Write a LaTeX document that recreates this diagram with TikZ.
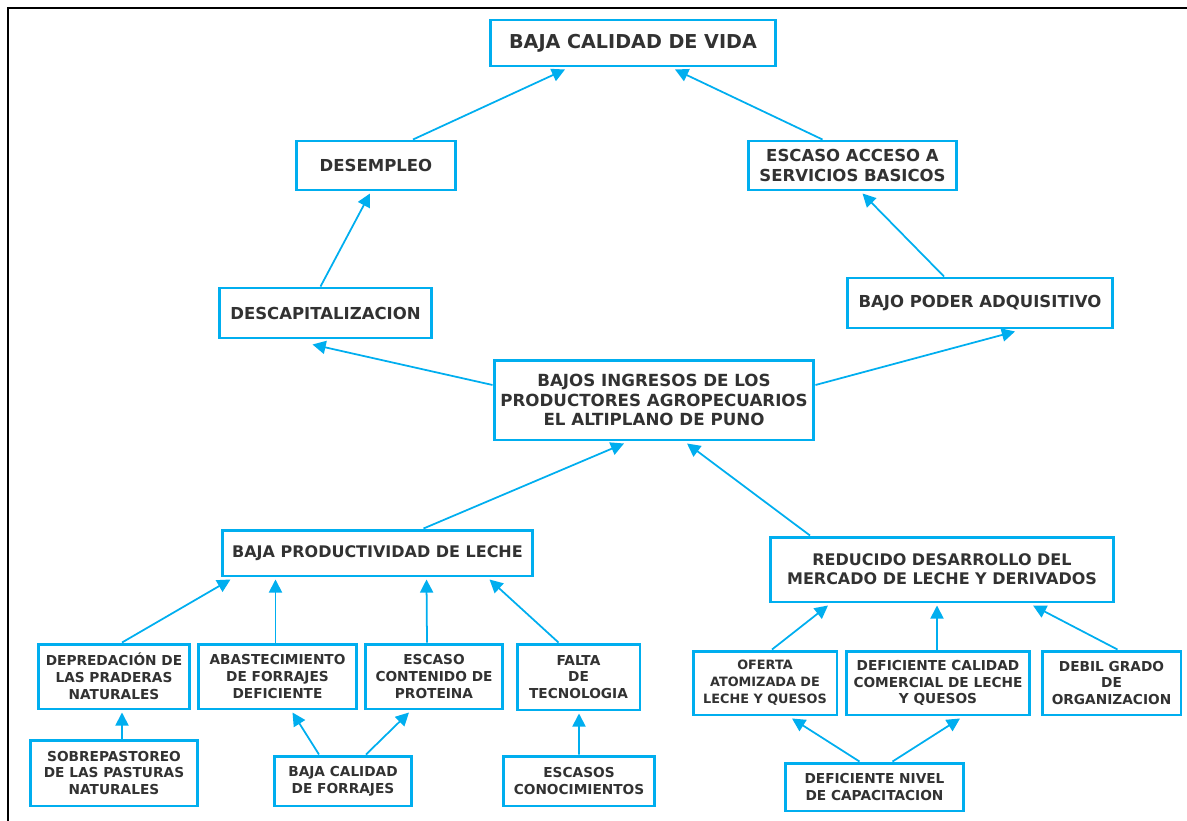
\documentclass[tikz,border=0pt]{standalone}
\usepackage{fontspec}
\setmainfont{DejaVu Sans}
\usetikzlibrary{arrows.meta,calc}

\definecolor{celeste}{RGB}{0,174,239}
\definecolor{grisoscuro}{RGB}{50,50,50}

\tikzset{
  caja/.style={draw=celeste, line width=1.7pt, fill=white, text=grisoscuro, align=center,
    inner sep=1pt, font=\bfseries\fontsize{9.4}{11}\selectfont},
  cajachica/.style={caja, font=\bfseries\fontsize{7.8}{9.6}\selectfont},
  flecha/.style={celeste, line width=1pt, -{Triangle[length=7.5pt,width=7.5pt]}}
}

\begin{document}
\begin{tikzpicture}[x=0.02cm, y=-0.02cm]
  \useasboundingbox (0,0) rectangle (1187,821);

  % Marco
  \draw[black, line width=1.2pt] (8,821) -- (8,8) -- (1187,8);

  % Efectos
  \node[caja, minimum width=5.72cm, minimum height=0.92cm, font=\bfseries\fontsize{10.9}{12}\selectfont] (vida) at (633,43) {BAJA CALIDAD DE VIDA};
  \node[caja, minimum width=3.2cm, minimum height=0.98cm] (desempleo) at (376,165.5) {DESEMPLEO};
  \node[caja, minimum width=4.18cm, minimum height=0.98cm] (acceso) at (852.5,165.5) {ESCASO ACCESO A\\SERVICIOS BASICOS};
  \node[caja, minimum width=4.26cm, minimum height=1cm] (descap) at (325.5,313) {DESCAPITALIZACION};
  \node[caja, minimum width=5.32cm, minimum height=1cm] (poder) at (980,303) {BAJO PODER ADQUISITIVO};

  % Problema central
  \node[caja, minimum width=6.4cm, minimum height=1.6cm, font=\bfseries\fontsize{9.5}{11.3}\selectfont] (ingresos) at (654,400) {BAJOS INGRESOS DE LOS\\PRODUCTORES AGROPECUARIOS\\EL ALTIPLANO DE PUNO};

  % Causas directas
  \node[caja, minimum width=6.22cm, minimum height=0.92cm, font=\bfseries\fontsize{9.1}{11}\selectfont] (productividad) at (377.5,553) {BAJA PRODUCTIVIDAD DE LECHE};
  \node[caja, minimum width=6.88cm, minimum height=1.3cm, font=\bfseries\fontsize{9.1}{11}\selectfont] (mercado) at (942,569.5) {REDUCIDO DESARROLLO DEL\\MERCADO DE LECHE Y DERIVADOS};

  % Causas indirectas
  \node[cajachica, minimum width=3.04cm, minimum height=1.3cm] (depredacion) at (114,676.5) {DEPREDACIÓN DE\\LAS PRADERAS\\NATURALES};
  \node[cajachica, minimum width=3.18cm, minimum height=1.3cm] (abastecimiento) at (277.5,676.5) {ABASTECIMIENTO\\DE FORRAJES\\DEFICIENTE};
  \node[cajachica, minimum width=2.76cm, minimum height=1.3cm] (proteina) at (434,676.5) {ESCASO\\CONTENIDO DE\\PROTEINA};
  \node[cajachica, minimum width=2.46cm, minimum height=1.32cm] (tecnologia) at (578.5,677) {FALTA\\DE\\TECNOLOGIA};
  \node[cajachica, minimum width=2.88cm, minimum height=1.28cm, font=\bfseries\fontsize{7.3}{9.6}\selectfont] (oferta) at (765,683) {OFERTA\\ATOMIZADA DE\\LECHE Y QUESOS};
  \node[cajachica, minimum width=3.68cm, minimum height=1.28cm] (comercial) at (938,683) {DEFICIENTE CALIDAD\\COMERCIAL DE LECHE\\Y QUESOS};
  \node[cajachica, minimum width=2.78cm, minimum height=1.28cm] (organizacion) at (1111.5,683) {DEBIL GRADO\\DE\\ORGANIZACION};

  % Causas de fondo
  \node[cajachica, minimum width=3.36cm, minimum height=1.32cm] (sobrepastoreo) at (114,773) {SOBREPASTOREO\\DE LAS PASTURAS\\NATURALES};
  \node[cajachica, minimum width=2.76cm, minimum height=1cm] (forrajes) at (343,781) {BAJA CALIDAD\\DE FORRAJES};
  \node[cajachica, minimum width=3.04cm, minimum height=1cm] (conocimientos) at (579,781) {ESCASOS\\CONOCIMIENTOS};
  \node[cajachica, minimum width=3.58cm, minimum height=0.96cm] (capacitacion) at (874.5,787) {DEFICIENTE NIVEL\\DE CAPACITACION};

  % Flechas hacia arriba
  \draw[flecha] ($(desempleo.north)+(37,0)$) -- ($(vida.south)+(-68,2)$);
  \draw[flecha] ($(acceso.north)+(-30,0)$) -- ($(vida.south)+(42,2)$);
  \draw[flecha] ($(descap.north)+(-5,0)$) -- ($(desempleo.south)+(-6,2)$);
  \draw[flecha] ($(poder.north)+(-36,0)$) -- ($(acceso.south)+(10,2)$);
  \draw[flecha] ($(ingresos.west)+(0,-15)$) -- ($(descap.south)+(-13,5)$);
  \draw[flecha] ($(ingresos.east)+(0,-15)$) -- ($(poder.south)+(35,2)$);
  \draw[flecha] ($(productividad.north)+(46,0)$) -- ($(ingresos.south)+(-30,2)$);
  \draw[flecha] ($(mercado.north)+(-132,0)$) -- ($(ingresos.south)+(33,2)$);

  \draw[flecha] ($(depredacion.north)+(8,0)$) -- ($(productividad.south)+(-147,2)$);
  \draw[flecha] ($(abastecimiento.north)+(-2,0)$) -- ($(productividad.south)+(-102,2)$);
  \draw[flecha] ($(proteina.north)+(-7,0)$) -- ($(productividad.south)+(49,2)$);
  \draw[flecha] ($(tecnologia.north)+(-20,0)$) -- ($(productividad.south)+(112,2)$);
  \draw[flecha] ($(oferta.north)+(7,0)$) -- ($(mercado.south)+(-114,2)$);
  \draw[flecha] ($(comercial.north)+(-1,0)$) -- ($(mercado.south)+(-5,2)$);
  \draw[flecha] ($(organizacion.north)+(6,0)$) -- ($(mercado.south)+(91,2)$);

  \draw[flecha] ($(sobrepastoreo.north)+(8,0)$) -- ($(depredacion.south)+(8,2)$);
  \draw[flecha] ($(forrajes.north)+(-24,0)$) -- ($(abastecimiento.south)+(15,2)$);
  \draw[flecha] ($(forrajes.north)+(23,0)$) -- ($(proteina.south)+(-25,2)$);
  \draw[flecha] (conocimientos.north) -- ($(tecnologia.south)+(0.5,2)$);
  \draw[flecha] ($(capacitacion.north)+(-15,0)$) -- ($(oferta.south)+(27,2)$);
  \draw[flecha] ($(capacitacion.north)+(18,0)$) -- ($(comercial.south)+(22,2)$);
\end{tikzpicture}
\end{document}
